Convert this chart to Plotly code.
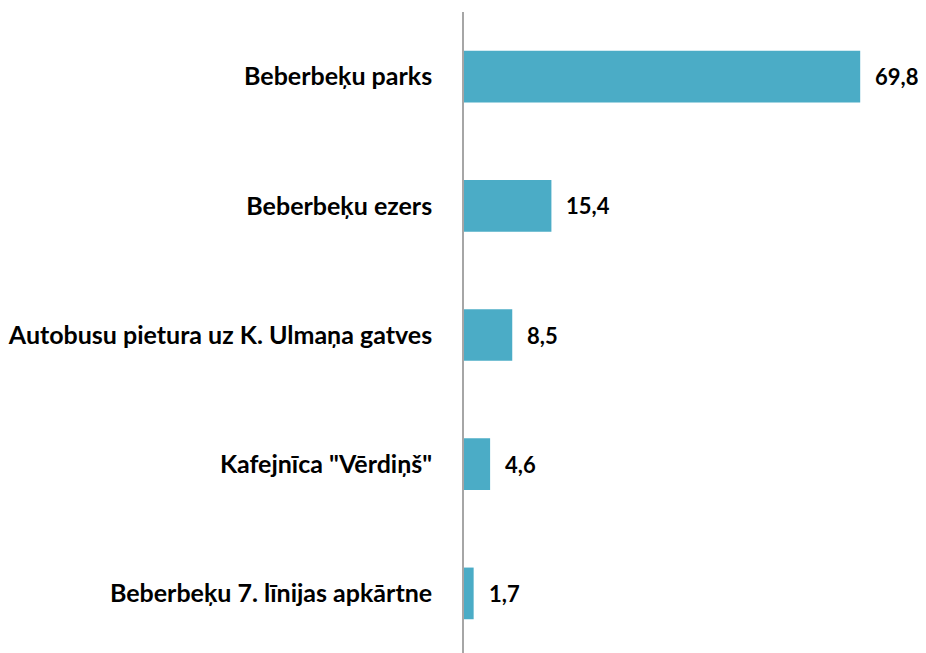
import plotly.graph_objects as go

categories = [
    "Beberbeķu parks",
    "Beberbeķu ezers",
    "Autobusu pietura uz K. Ulmaņa gatves",
    "Kafejnīca \"Vērdiņš\"",
    "Beberbeķu 7. līnijas apkārtne",
]
values = [69.8, 15.4, 8.5, 4.6, 1.7]
value_labels = [f"{v:.1f}".replace(".", ",") for v in values]

FONT = "Lato"
BAR_COLOR = "#4BACC6"
PX_PER_UNIT = 5.75
BAND_PX = 129.2

W, H = 918, 645
L, T = 450, 4

fig = go.Figure(
    go.Bar(
        x=values,
        y=categories,
        orientation="h",
        marker=dict(color=BAR_COLOR, line=dict(width=0)),
        hoverinfo="skip",
    )
)

for v, c, t in zip(values, categories, value_labels):
    fig.add_annotation(
        x=v, y=c, text=f"<b>{t}</b>", showarrow=False,
        xanchor="left", yanchor="middle", xshift=13,
        font=dict(family=FONT, size=22, color="#000000"),
    )

fig.update_layout(
    width=W, height=H,
    margin=dict(l=L, r=0, t=T, b=0),
    paper_bgcolor="white", plot_bgcolor="white",
    bargap=0.6,
    showlegend=False,
    font=dict(family=FONT, size=22, color="#000000"),
)
fig.update_xaxes(
    range=[0, (W - L) / PX_PER_UNIT], showgrid=False, zeroline=False,
    showticklabels=False, showline=False,
)
fig.update_yaxes(
    type="category",
    categoryorder="array", categoryarray=categories,
    range=[(H - T) / BAND_PX - 0.5, -0.5],
    showgrid=False, zeroline=False,
    showline=True, linecolor="#A6A6A6", linewidth=1.7,
    ticks="", ticklabelstandoff=25,
    tickfont=dict(family=FONT, size=25, color="#000000", weight="bold"),
)

fig.write_html("out.html")
